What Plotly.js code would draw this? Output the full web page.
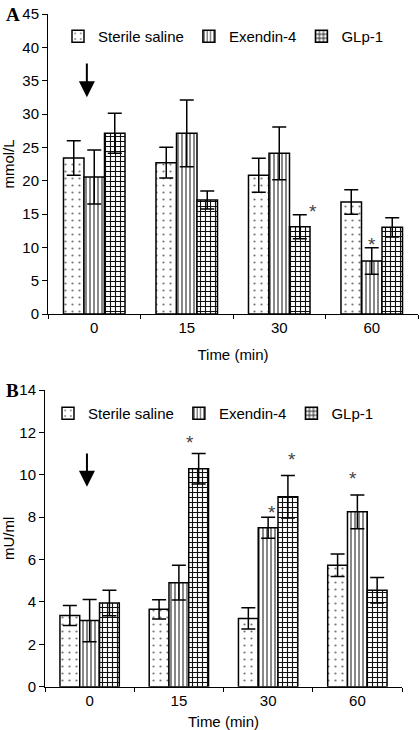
<!DOCTYPE html>
<html>
<head>
<meta charset="utf-8">
<script src="https://cdn.plot.ly/plotly-3.0.1.min.js"></script>
<style>html,body{margin:0;padding:0;background:#fff;}#chart{width:420px;height:730px;}</style>
</head>
<body>
<div id="chart"></div>
<script>
// ---- data ----
const categories = ['0', '15', '30', '60'];
const seriesNames = ['Sterile saline', 'Exendin-4', 'GLp-1'];

// Panel A: glucose (mmol/L)
const salineA = [23.4, 22.7, 20.8, 16.8];
const salineAErr = [2.6, 2.3, 2.55, 1.85];
const exendinA = [20.55, 27.1, 24.1, 7.95];
const exendinAErr = [4.05, 5.0, 3.95, 2.0];
const glpA = [27.1, 17.1, 13.1, 13.0];
const glpAErr = [3.0, 1.35, 1.8, 1.45];

// Panel B: insulin (mU/ml)
const salineB = [3.36, 3.65, 3.22, 5.73];
const salineBErr = [0.47, 0.45, 0.5, 0.53];
const exendinB = [3.12, 4.91, 7.5, 8.25];
const exendinBErr = [1.0, 0.82, 0.5, 0.8];
const glpB = [3.95, 10.28, 8.96, 4.55];
const glpBErr = [0.6, 0.72, 1.0, 0.6];

// significance markers: [category position, value]
const starsA = [[2.36, 15.4], [3.0, 10.4]];
const starsB = [[1.125, 11.5], [2.04, 8.2], [2.264, 10.7], [2.95, 9.84]];
// arrows (position, tip value, tail value) at time 0
const arrowA = [-0.08, 32.5, 37.8];
const arrowB = [-0.03, 9.43, 11.08];

// ---- styles ----
const patterns = [
  {shape: '.', size: 7, solidity: 0.08, fgcolor: '#777', bgcolor: 'white'},
  {shape: '|', size: 4, solidity: 0.25, fgcolor: '#111', bgcolor: 'white'},
  {shape: '+', size: 5, solidity: 0.4, fgcolor: '#111', bgcolor: 'white'}
];
const font = {family: 'Liberation Sans, Arial, sans-serif', size: 15, color: '#000'};
const starFont = {family: 'Liberation Sans, Arial, sans-serif', size: 19, color: '#444'};

function bar(y, err, i, xa, ya, leg) {
  return {
    type: 'bar', x: categories, y: y, name: seriesNames[i],
    xaxis: xa, yaxis: ya, legend: leg,
    marker: {color: 'white', pattern: patterns[i], line: {color: '#000', width: 1.5}},
    error_y: {type: 'data', array: err, visible: true, color: '#000', thickness: 1.5, width: 7}
  };
}

const traces = [
  bar(salineA, salineAErr, 0, 'x', 'y', 'legend'),
  bar(exendinA, exendinAErr, 1, 'x', 'y', 'legend'),
  bar(glpA, glpAErr, 2, 'x', 'y', 'legend'),
  bar(salineB, salineBErr, 0, 'x2', 'y2', 'legend2'),
  bar(exendinB, exendinBErr, 1, 'x2', 'y2', 'legend2'),
  bar(glpB, glpBErr, 2, 'x2', 'y2', 'legend2')
];

const W = 420, H = 730;
function xd(a, b) { return [a / W, b / W]; }
function yd(top, bot) { return [(H - bot) / H, (H - top) / H]; }

const xCommon = {
  type: 'category', showline: true, linecolor: '#000', linewidth: 1,
  ticks: 'outside', tickson: 'boundaries', ticklen: 4, tickcolor: '#000',
  showgrid: false, zeroline: false, tickfont: font
};
const yCommon = {
  showline: true, linecolor: '#000', linewidth: 1, ticks: 'outside', ticklen: 5,
  tickcolor: '#000', showgrid: false, zeroline: false, tickfont: font
};

const annotations = [];
starsA.forEach(s => annotations.push({x: s[0], y: s[1], xref: 'x', yref: 'y', text: '*', showarrow: false, font: starFont}));
starsB.forEach(s => annotations.push({x: s[0], y: s[1], xref: 'x2', yref: 'y2', text: '*', showarrow: false, font: starFont}));
annotations.push({x: arrowA[0], y: arrowA[1], ax: arrowA[0], ay: arrowA[2], xref: 'x', yref: 'y', axref: 'x', ayref: 'y', text: '', showarrow: true, arrowhead: 2, arrowsize: 1.6, arrowwidth: 2, arrowcolor: '#000'});
annotations.push({x: arrowB[0], y: arrowB[1], ax: arrowB[0], ay: arrowB[2], xref: 'x2', yref: 'y2', axref: 'x2', ayref: 'y2', text: '', showarrow: true, arrowhead: 2, arrowsize: 1.6, arrowwidth: 2, arrowcolor: '#000'});
annotations.push({x: 4 / W, y: 1 - 15 / H, xref: 'paper', yref: 'paper', xanchor: 'left', yanchor: 'middle', text: '<b>A</b>', showarrow: false, font: {family: 'Liberation Serif, Times New Roman, serif', size: 19, color: '#000'}});
annotations.push({x: 4 / W, y: 1 - 390 / H, xref: 'paper', yref: 'paper', xanchor: 'left', yanchor: 'middle', text: '<b>B</b>', showarrow: false, font: {family: 'Liberation Serif, Times New Roman, serif', size: 19, color: '#000'}});

const layout = {
  width: W, height: H,
  margin: {l: 0, r: 0, t: 0, b: 0},
  paper_bgcolor: 'white', plot_bgcolor: 'white',
  font: font,
  barmode: 'group', bargap: 0.335, bargroupgap: 0,
  showlegend: true,
  xaxis: Object.assign({}, xCommon, {domain: xd(48, 418), anchor: 'y', title: {text: 'Time (min)', font: font, standoff: 14}}),
  yaxis: Object.assign({}, yCommon, {domain: yd(14, 314), anchor: 'x', range: [0, 45], dtick: 5, title: {text: 'mmol/L', font: font, standoff: 4}}),
  xaxis2: Object.assign({}, xCommon, {domain: xd(45, 402), anchor: 'y2', title: {text: 'Time (min)', font: font, standoff: 11}}),
  yaxis2: Object.assign({}, yCommon, {domain: yd(390, 686.7), anchor: 'x2', range: [0, 14], dtick: 2, title: {text: 'mU/ml', font: font, standoff: 7}}),
  legend: {orientation: 'h', x: 58 / W, y: 1 - 20 / H, xanchor: 'left', yanchor: 'top', bgcolor: 'rgba(0,0,0,0)', font: font, itemwidth: 30, tracegroupgap: 0},
  legend2: {orientation: 'h', x: 48 / W, y: 1 - 397 / H, xanchor: 'left', yanchor: 'top', bgcolor: 'rgba(0,0,0,0)', font: font, itemwidth: 30, tracegroupgap: 0},
  annotations: annotations
};

Plotly.newPlot('chart', traces, layout, {displayModeBar: false, staticPlot: true});
</script>
</body>
</html>
